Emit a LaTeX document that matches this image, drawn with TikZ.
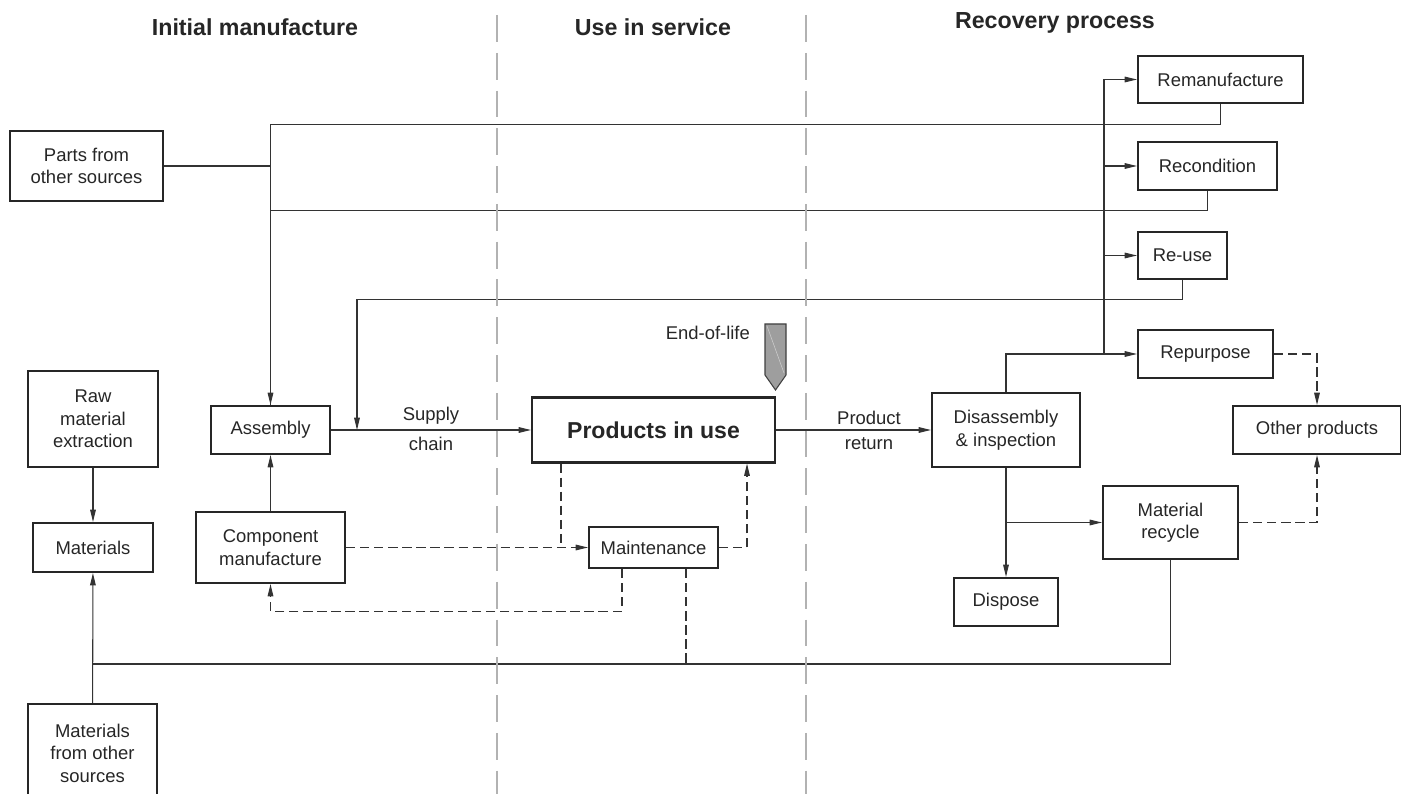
\documentclass[tikz,border=0pt]{standalone}
\usepackage{fontspec}
\setmainfont{Liberation Sans}
\usetikzlibrary{arrows.meta, positioning, calc}

\begin{document}
\begin{tikzpicture}[
  font=\fontsize{10.5}{12.8}\selectfont,
  blocco/.style={draw=black!85, line width=1.2pt, align=center, inner sep=2pt, text=black!85},
  punta/.style={-{Triangle[length=7pt,width=3.2pt]}},
  linea/.style={draw=black!80, line width=0.6pt},
  freccia/.style={linea, punta},
  tratto/.style={linea, dash pattern=on 5.3pt off 2.7pt},
  trattofreccia/.style={tratto, punta},
  separatore/.style={draw=black!30, line width=1.6pt, dash pattern=on 15.3pt off 6.2pt},
  titolo/.style={font=\fontsize{13.2}{16}\selectfont\bfseries, text=black!85},
  etichetta/.style={text=black!85, inner sep=1pt}
]

\useasboundingbox (0,0) rectangle (28.02,-15.88);

% intestazioni
\node[titolo] (tit1) at (5.10,-0.54) {Initial manufacture};
\node[titolo] (tit2) at (13.06,-0.54) {Use in service};
\node[titolo] (tit3) at (21.10,-0.46) {Recovery process};

% fabbricazione
\node[blocco, minimum width=3.06cm, minimum height=1.40cm] (parti) at (1.73,-3.32) {Parts from\\other sources};
\node[blocco, minimum width=2.59cm, minimum height=1.92cm] (grezzo) at (1.86,-8.38) {Raw\\material\\extraction};
\node[blocco, minimum width=2.40cm, minimum height=0.98cm] (mat) at (1.86,-10.95) {Materials};
\node[blocco, minimum width=2.58cm, minimum height=1.96cm] (matalt) at (1.85,-15.06) {Materials\\from other\\sources};
\node[blocco, minimum width=2.38cm, minimum height=0.96cm] (assem) at (5.41,-8.60) {Assembly};
\node[blocco, minimum width=2.98cm, minimum height=1.42cm] (comp) at (5.41,-10.95) {Component\\manufacture};

% servizio
\node[blocco, minimum width=4.86cm, minimum height=1.30cm,
      font=\fontsize{13.1}{16}\selectfont\bfseries] (prod) at (13.07,-8.60) {Products in use};
\node[blocco, minimum width=2.58cm, minimum height=0.82cm] (manut) at (13.07,-10.95) {Maintenance};

% recupero
\node[blocco, minimum width=2.96cm, minimum height=1.48cm] (disas) at (20.12,-8.60) {Disassembly\\\& inspection};
\node[blocco, minimum width=2.08cm, minimum height=0.96cm] (smalt) at (20.12,-12.04) {Dispose};
\node[blocco, minimum width=2.70cm, minimum height=1.46cm] (ricic) at (23.41,-10.45) {Material\\recycle};
\node[blocco, minimum width=3.36cm, minimum height=0.96cm] (altri) at (26.34,-8.60) {Other products};
\node[blocco, minimum width=2.70cm, minimum height=0.96cm] (riprop) at (24.11,-7.08) {Repurpose};
\node[blocco, minimum width=3.30cm, minimum height=0.94cm] (riman) at (24.41,-1.59) {Remanufacture};
\node[blocco, minimum width=2.78cm, minimum height=0.96cm] (ricond) at (24.15,-3.32) {Recondition};
\node[blocco, minimum width=1.78cm, minimum height=0.94cm] (riuso) at (23.65,-5.11) {Re-use};

\coordinate (snodo) at (22.08,-7.08);
\coordinate (discesa) at (7.14,-8.60);
\coordinate (base) at (1.85,-13.28);

% fine vita
\filldraw[fill=black!38, draw=black!75, line width=0.6pt]
  (15.30,-6.48) -- (15.72,-6.48) -- (15.72,-7.50) -- (15.51,-7.80) -- (15.30,-7.50) -- cycle;
\draw[white, opacity=0.5, line width=0.3pt] (15.34,-6.52) -- (15.68,-7.46);
\node[etichetta, anchor=east] (finevita) at (15.04,-6.66) {End-of-life};

% flussi principali
\draw[freccia] (assem) -- (prod)
  node[etichetta, midway, above=2pt] {Supply}
  node[etichetta, midway, below=3pt] {chain};
\draw[freccia] (prod) -- (disas)
  node[etichetta, pos=0.6, above=2pt] {Product}
  node[etichetta, pos=0.6, below=3pt] {return};
\draw[freccia] (grezzo) -- (mat);
\draw[freccia] (matalt) -- (mat);
\draw[freccia] (comp) -- (assem);
\draw[freccia] (disas) -- (smalt);
\draw[freccia] (disas.south |- ricic.west) -- (ricic.west);
\draw[freccia] (disas.north) |- (riprop.west);
\draw[linea] (snodo) -- (snodo |- riman.west);
\foreach \n in {riman, ricond, riuso}
  \draw[freccia] (snodo |- \n.west) -- (\n.west);

% ritorni verso l'assemblaggio
\draw[linea] (parti.east) -- (parti.east -| assem.north);
\draw[freccia] (riman.south) -- ++(0,-0.40) -| (assem.north);
\draw[linea] (ricond.south) -- ++(0,-0.38) -| (assem.north);
\draw[freccia] (riuso.south) -- ++(0,-0.38) -| (discesa);
\draw[linea] (ricic.south) |- (base);

% manutenzione
\draw[trattofreccia] (comp.east) -- (manut.west);
\draw[tratto] ([xshift=-1.85cm]prod.south) -- ([xshift=-1.85cm]prod.south |- manut.west);
\draw[trattofreccia] (manut.east) -| ([xshift=1.87cm]prod.south);
\draw[trattofreccia] ([xshift=-0.63cm]manut.south) -- ++(0,-0.84) -| (comp.south);
\draw[tratto] ([xshift=0.65cm]manut.south) -- ([xshift=0.65cm]manut.south |- base);
\draw[trattofreccia] (riprop.east) -| (altri.north);
\draw[trattofreccia] (ricic.east) -| (altri.south);

% separatori
\draw[separatore] (9.94,-0.30) -- (9.94,-15.88);
\draw[separatore] (16.12,-0.30) -- (16.12,-15.88);

\end{tikzpicture}
\end{document}
